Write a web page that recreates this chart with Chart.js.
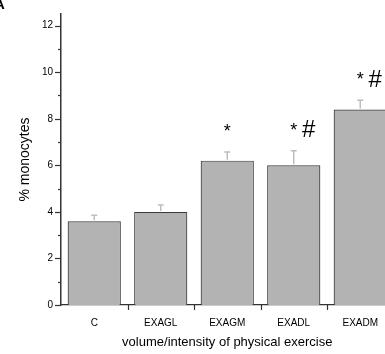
<!DOCTYPE html>
<html>
<head>
<meta charset="utf-8">
<script src="https://cdn.jsdelivr.net/npm/chart.js@4"></script>
<style>
  html, body { margin: 0; padding: 0; background: #fff; overflow: hidden; }
  #wrap { position: relative; width: 400px; height: 354px; }
</style>
</head>
<body>
<div id="wrap"><canvas id="chart"></canvas></div>
<script>
const groups = ["C", "EXAGL", "EXAGM", "EXADL", "EXADM"];
const means = [3.6, 4.0, 6.2, 6.0, 8.4];
const errUp = [0.25, 0.3, 0.37, 0.63, 0.4];
const marks = ["", "", "*", "*#", "*#"];
const yLabels = [0, 2, 4, 6, 8, 10, 12];

const FONT = "'Liberation Sans', Arial, sans-serif";

// error bars, significance marks and axis tick marks
const extras = {
  id: "extras",
  afterDatasetsDraw(chart) {
    const { ctx, scales: { x, y } } = chart;
    ctx.save();
    // upper error bars
    ctx.strokeStyle = "#bdbdbd";
    ctx.lineWidth = 1.5;
    means.forEach((m, i) => {
      const cx = x.getPixelForValue(i);
      const top = y.getPixelForValue(m + errUp[i]);
      const base = y.getPixelForValue(m);
      ctx.beginPath();
      ctx.moveTo(cx, base - 1);
      ctx.lineTo(cx, top);
      ctx.moveTo(cx - 3, top);
      ctx.lineTo(cx + 3, top);
      ctx.stroke();
    });
    // significance marks
    ctx.fillStyle = "#000";
    ctx.textAlign = "center";
    ctx.textBaseline = "alphabetic";
    marks.forEach((s, i) => {
      if (!s) return;
      const cx = x.getPixelForValue(i);
      const c = y.getPixelForValue(means[i] + errUp[i]) - 22;
      if (s.includes("*")) {
        ctx.font = "18px " + FONT;
        ctx.fillText("*", cx, c + 7);
      }
      if (s.includes("#")) {
        ctx.font = "24px " + FONT;
        ctx.fillText("#", cx + 15, c + 8.5);
      }
    });
    // y ticks: major at even values, minor at odd
    ctx.strokeStyle = "#333";
    ctx.lineWidth = 1.2;
    for (let v = 0; v <= 12; v++) {
      const py = Math.round(y.getPixelForValue(v)) + 0.5;
      const len = v % 2 === 0 ? 6 : 3;
      ctx.beginPath();
      ctx.moveTo(x.left - len, py);
      ctx.lineTo(x.left, py);
      ctx.stroke();
    }
    // x ticks at category boundaries
    for (let i = 1; i < groups.length; i++) {
      const px = Math.round((x.getPixelForValue(i - 1) + x.getPixelForValue(i)) / 2) + 0.5;
      ctx.beginPath();
      ctx.moveTo(px, y.bottom);
      ctx.lineTo(px, y.bottom + 5);
      ctx.stroke();
    }
    // panel letter, clipped at the edge
    ctx.font = "bold 15px " + FONT;
    ctx.textAlign = "left";
    ctx.fillText("A", -6, 9);
    ctx.restore();
  }
};

new Chart(document.getElementById("chart"), {
  type: "bar",
  data: {
    labels: groups,
    datasets: [{
      data: means,
      backgroundColor: "#b3b3b3",
      borderColor: "#3a3a3a",
      borderWidth: 1.2,
      categoryPercentage: 1,
      barPercentage: 0.8,
    }],
  },
  options: {
    responsive: true, maintainAspectRatio: false,
    animation: false,
    layout: { padding: { top: 10, right: 6.5, left: 0, bottom: 0 } },
    plugins: { legend: { display: false }, tooltip: { enabled: false } },
    scales: {
      x: {
        offset: true,
        grid: { display: false, drawTicks: false },
        border: { display: true, color: "#333", width: 1.2 },
        ticks: { color: "#000", font: { family: FONT, size: 10 }, padding: 12, maxRotation: 0 },
        title: { display: true, text: "volume/intensity of physical exercise", color: "#000",
                 font: { family: FONT, size: 13 }, padding: { top: 0, bottom: 4 } },
        afterFit(s) { s.height = 49; },
      },
      y: {
        min: 0, max: 12.5,
        grid: { display: false, drawTicks: false },
        border: { display: true, color: "#333", width: 1.5 },
        ticks: {
          stepSize: 1, color: "#000", font: { family: FONT, size: 10 }, padding: 8,
          callback: v => yLabels.includes(v) ? v : "",
        },
        title: { display: true, text: "% monocytes", color: "#000",
                 font: { family: FONT, size: 14 }, padding: { top: 17, bottom: 0 } },
        afterFit(s) { s.width = 61; },
      },
    },
  },
  plugins: [extras],
});
</script>
</body>
</html>
